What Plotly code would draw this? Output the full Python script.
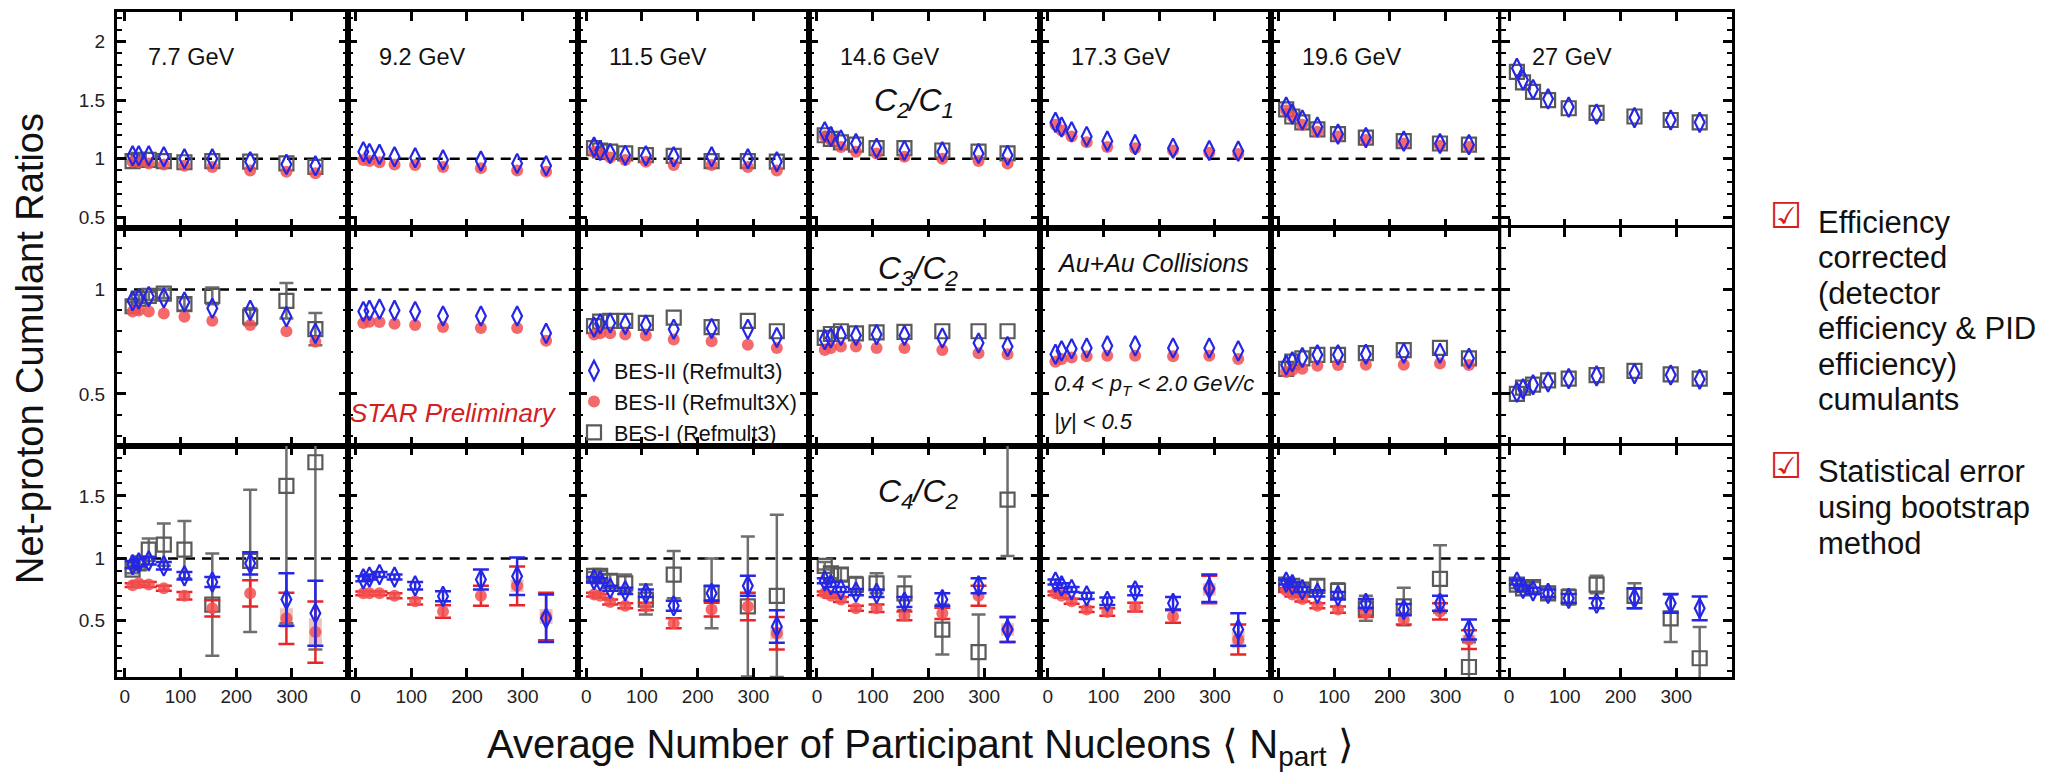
import plotly.graph_objects as go
from plotly.subplots import make_subplots

W, H = 2047, 780
FONT = "Liberation Sans, Arial, sans-serif"

ENERGIES = ["7.7", "9.2", "11.5", "14.6", "17.3", "19.6", "27"]
ENERGY_LABELS = ["7.7 GeV", "9.2 GeV", "11.5 GeV", "14.6 GeV", "17.3 GeV", "19.6 GeV", "27 GeV"]
NPART = [14, 25, 43, 70, 107, 157, 225, 290, 342]
X_TICKS = [0, 100, 200, 300]

# ---------------- C2/C1 ----------------
C2C1_BES2 = {
    "7.7": [1.025, 1.025, 1.025, 1.017, 1.0, 1.0, 0.975, 0.952, 0.94],
    "9.2": [1.06, 1.045, 1.037, 1.017, 1.008, 0.99, 0.98, 0.96, 0.94],
    "11.5": [1.10, 1.07, 1.045, 1.03, 1.025, 1.017, 1.017, 1.0, 0.975],
    "14.6": [1.23, 1.19, 1.16, 1.13, 1.09, 1.07, 1.06, 1.045, 1.03],
    "17.3": [1.31, 1.27, 1.23, 1.19, 1.15, 1.12, 1.09, 1.07, 1.065],
    "19.6": [1.44, 1.38, 1.33, 1.27, 1.21, 1.18, 1.15, 1.13, 1.12],
    "27": [1.77, 1.67, 1.59, 1.51, 1.44, 1.38, 1.35, 1.33, 1.31],
}
C2C1_BES2X = {
    "7.7": [0.975, 0.97, 0.96, 0.95, 0.94, 0.93, 0.90, 0.89, 0.876],
    "9.2": [0.99, 0.98, 0.97, 0.95, 0.946, 0.93, 0.92, 0.90, 0.89],
    "11.5": [1.06, 1.045, 1.01, 0.99, 0.975, 0.946, 0.946, 0.93, 0.90],
    "14.6": [1.19, 1.16, 1.10, 1.06, 1.045, 1.017, 1.0, 0.98, 0.96],
    "17.3": [1.29, 1.24, 1.19, 1.14, 1.10, 1.09, 1.07, 1.05, 1.04],
    "19.6": [1.41, 1.36, 1.29, 1.23, 1.19, 1.16, 1.13, 1.11, 1.10],
}
C2C1_BES1 = {
    "7.7": [0.98, 0.99, 0.99, 0.98, 0.97, 0.98, 0.975, 0.96, 0.93],
    "11.5": [1.09, 1.07, 1.06, 1.045, 1.03, 1.025, 0.98, 0.98, 0.975],
    "14.6": [1.20, 1.17, 1.14, 1.12, 1.09, 1.09, 1.07, 1.06, 1.045],
    "19.6": [1.42, 1.36, 1.31, 1.25, 1.21, 1.18, 1.15, 1.13, 1.12],
    "27": [1.74, 1.65, 1.57, 1.50, 1.43, 1.39, 1.36, 1.33, 1.31],
}

# ---------------- C3/C2 ----------------
C3C2_BES2 = {
    "7.7": [0.946, 0.955, 0.966, 0.96, 0.94, 0.91, 0.90, 0.87, 0.79],
    "9.2": [0.895, 0.90, 0.906, 0.90, 0.895, 0.873, 0.873, 0.873, 0.79],
    "11.5": [0.82, 0.836, 0.84, 0.833, 0.83, 0.81, 0.813, 0.81, 0.77],
    "14.6": [0.76, 0.768, 0.78, 0.78, 0.784, 0.78, 0.768, 0.744, 0.727],
    "17.3": [0.69, 0.706, 0.716, 0.72, 0.73, 0.73, 0.72, 0.72, 0.706],
    "19.6": [0.638, 0.654, 0.674, 0.687, 0.687, 0.69, 0.695, 0.695, 0.67],
    "27": [0.508, 0.524, 0.544, 0.557, 0.573, 0.586, 0.597, 0.59, 0.57],
}
C3C2_BES2X = {
    "7.7": [0.895, 0.90, 0.895, 0.885, 0.87, 0.85, 0.83, 0.80, 0.75],
    "9.2": [0.84, 0.846, 0.844, 0.836, 0.83, 0.82, 0.816, 0.816, 0.755],
    "11.5": [0.784, 0.79, 0.79, 0.784, 0.78, 0.76, 0.752, 0.735, 0.72],
    "14.6": [0.71, 0.72, 0.727, 0.727, 0.72, 0.72, 0.71, 0.695, 0.69],
    "17.3": [0.654, 0.667, 0.674, 0.68, 0.683, 0.683, 0.68, 0.683, 0.667],
    "19.6": [0.605, 0.613, 0.62, 0.635, 0.638, 0.64, 0.64, 0.646, 0.638],
}
C3C2_BES1 = {
    "7.7": [0.92, 0.955, 0.97, 0.98, 0.93, 0.97, 0.87, 0.946, 0.81],
    "11.5": [0.825, 0.846, 0.85, 0.85, 0.84, 0.865, 0.82, 0.85, 0.80],
    "14.6": [0.768, 0.787, 0.80, 0.79, 0.795, 0.797, 0.80, 0.80, 0.80],
    "19.6": [0.62, 0.654, 0.67, 0.687, 0.687, 0.695, 0.71, 0.72, 0.67],
    "27": [0.50, 0.53, 0.544, 0.565, 0.573, 0.59, 0.61, 0.593, 0.573],
}
C3C2_BES1_ERR = {
    "7.7": [0.02, 0.02, 0.02, 0.02, 0.03, 0.04, 0.04, 0.085, 0.077],
}

# ---------------- C4/C2 ----------------
C4C2_BES2 = {
    "7.7": [0.95, 0.965, 0.98, 0.94, 0.86, 0.81, 0.96, 0.67, 0.56],
    "9.2": [0.836, 0.85, 0.87, 0.85, 0.78, 0.696, 0.83, 0.857, 0.52],
    "11.5": [0.83, 0.82, 0.76, 0.74, 0.72, 0.62, 0.72, 0.78, 0.455],
    "14.6": [0.82, 0.79, 0.75, 0.73, 0.72, 0.65, 0.67, 0.78, 0.43],
    "17.3": [0.81, 0.78, 0.75, 0.70, 0.656, 0.74, 0.64, 0.76, 0.43],
    "19.6": [0.81, 0.79, 0.75, 0.72, 0.70, 0.64, 0.59, 0.64, 0.43],
    "27": [0.81, 0.76, 0.74, 0.72, 0.68, 0.64, 0.68, 0.64, 0.60],
}
C4C2_BES2_ERR = {
    "7.7": [0.03, 0.03, 0.03, 0.03, 0.03, 0.04, 0.09, 0.21, 0.26],
    "9.2": [0.02, 0.02, 0.02, 0.02, 0.03, 0.04, 0.08, 0.15, 0.19],
    "11.5": [0.02, 0.02, 0.02, 0.025, 0.03, 0.04, 0.06, 0.08, 0.13],
    "14.6": [0.02, 0.02, 0.02, 0.025, 0.03, 0.04, 0.05, 0.06, 0.10],
    "17.3": [0.02, 0.02, 0.02, 0.025, 0.03, 0.035, 0.05, 0.11, 0.13],
    "19.6": [0.02, 0.02, 0.02, 0.025, 0.03, 0.035, 0.045, 0.06, 0.08],
    "27": [0.02, 0.02, 0.025, 0.03, 0.035, 0.04, 0.08, 0.075, 0.095],
}
C4C2_BES2X = {
    "7.7": [0.785, 0.80, 0.79, 0.76, 0.70, 0.60, 0.72, 0.52, 0.41],
    "9.2": [0.72, 0.72, 0.72, 0.70, 0.656, 0.575, 0.70, 0.78, 0.535],
    "11.5": [0.71, 0.70, 0.65, 0.62, 0.615, 0.48, 0.59, 0.615, 0.40],
    "14.6": [0.72, 0.70, 0.67, 0.60, 0.60, 0.54, 0.56, 0.70, 0.43],
    "17.3": [0.72, 0.70, 0.656, 0.59, 0.57, 0.61, 0.535, 0.75, 0.35],
    "19.6": [0.745, 0.71, 0.675, 0.62, 0.59, 0.56, 0.51, 0.575, 0.35],
}
C4C2_BES2X_ERR = {
    "7.7": [0.015, 0.015, 0.02, 0.02, 0.03, 0.065, 0.105, 0.205, 0.245],
    "9.2": [0.015, 0.015, 0.015, 0.02, 0.025, 0.05, 0.08, 0.155, 0.19],
    "11.5": [0.015, 0.015, 0.02, 0.02, 0.03, 0.04, 0.055, 0.11, 0.13],
    "14.6": [0.015, 0.015, 0.02, 0.02, 0.03, 0.035, 0.045, 0.08, 0.10],
    "17.3": [0.015, 0.015, 0.02, 0.02, 0.03, 0.035, 0.05, 0.11, 0.12],
    "19.6": [0.015, 0.015, 0.02, 0.02, 0.025, 0.03, 0.04, 0.065, 0.075],
}
C4C2_BES2X_SYS = {
    "7.7": [0, 0, 0, 0, 0, 0, 0, 0.08, 0.11],
    "9.2": [0, 0, 0, 0, 0, 0, 0, 0.05, 0.06],
    "11.5": [0, 0, 0, 0, 0, 0, 0, 0, 0.05],
    "14.6": [0, 0, 0, 0, 0, 0, 0, 0, 0.05],
    "17.3": [0, 0, 0, 0, 0, 0, 0, 0.05, 0.07],
    "19.6": [0, 0, 0, 0, 0, 0, 0, 0, 0.04],
}
C4C2_BES1 = {
    "7.7": [0.91, 0.96, 1.07, 1.11, 1.07, 0.63, 0.98, 1.58, 1.77],
    "11.5": [0.86, 0.86, 0.82, 0.80, 0.67, 0.87, 0.72, 0.615, 0.70],
    "14.6": [0.94, 0.88, 0.87, 0.79, 0.80, 0.72, 0.43, 0.25, 1.47],
    "19.6": [0.79, 0.78, 0.75, 0.78, 0.74, 0.60, 0.615, 0.836, 0.13],
    "27": [0.79, 0.76, 0.77, 0.72, 0.69, 0.79, 0.70, 0.52, 0.20],
}
C4C2_BES1_ERR = {
    "7.7": [0.03, 0.05, 0.09, 0.17, 0.23, 0.41, 0.57, 1.1, 1.5],
    "11.5": [0.03, 0.04, 0.05, 0.07, 0.12, 0.19, 0.28, 0.56, 0.65],
    "14.6": [0.03, 0.04, 0.05, 0.06, 0.08, 0.135, 0.2, 0.3, 0.45],
    "19.6": [0.03, 0.03, 0.04, 0.05, 0.06, 0.1, 0.15, 0.27, 0.2],
    "27": [0.03, 0.03, 0.04, 0.05, 0.06, 0.07, 0.1, 0.19, 0.25],
}

NOTE_1 = ["Efficiency", "corrected", "(detector", "efficiency & PID", "efficiency)", "cumulants"]
NOTE_2 = ["Statistical error", "using bootstrap", "method"]

ROWS = [
    dict(blue=C2C1_BES2, red=C2C1_BES2X, gray=C2C1_BES1),
    dict(blue=C3C2_BES2, red=C3C2_BES2X, gray=C3C2_BES1, gray_err=C3C2_BES1_ERR),
    dict(blue=C4C2_BES2, blue_err=C4C2_BES2_ERR, red=C4C2_BES2X, red_err=C4C2_BES2X_ERR,
         red_sys=C4C2_BES2X_SYS, gray=C4C2_BES1, gray_err=C4C2_BES1_ERR),
]

# ---------------- geometry (pixels) ----------------
COL_LEFT, COL_RIGHT = 117, 1732
COL_W = (COL_RIGHT - COL_LEFT) / 7
ROW_PX = [(12, 228), (228, 446), (446, 677)]
X_RANGE = [-14, 400]
Y_RANGES = [[0.41, 2.25], [0.25, 1.295], [0.05, 1.90]]
Y_TICKS = [[0.5, 1, 1.5, 2], [0.5, 1], [0.5, 1, 1.5]]
Y_TICKTEXT = [["0.5", "1", "1.5", "2"], ["0.5", "1"], ["0.5", "1", "1.5"]]

BLUE = "#2626e6"
RED = "#e8262a"
RED_FILL = "rgba(242,80,80,0.85)"
GRAY = "#5a5a5a"
GRAY_ERR = "#6e6e6e"
SYS_FILL = "rgba(215,150,140,0.55)"

fig = make_subplots(rows=3, cols=7, horizontal_spacing=0, vertical_spacing=0)


def px_x(p):
    return p / W


def px_y(p):
    return 1 - p / H


for r in range(3):
    for c in range(7):
        idx = r * 7 + c + 1
        xa = "xaxis" if idx == 1 else f"xaxis{idx}"
        ya = "yaxis" if idx == 1 else f"yaxis{idx}"
        x0 = COL_LEFT + c * COL_W
        x1 = x0 + COL_W
        top, bot = ROW_PX[r]
        fig.layout[xa].update(
            domain=[px_x(x0), px_x(x1)], range=X_RANGE, tickvals=X_TICKS,
            ticktext=[str(v) for v in X_TICKS],
            ticks="inside", ticklen=9, tickwidth=2.5, tickcolor="black",
            showline=True, linewidth=3, linecolor="black", mirror="ticks",
            showgrid=False, zeroline=False, showticklabels=(r == 2),
            tickfont=dict(size=19, family=FONT, color="#222"), automargin=False,
        )
        fig.layout[ya].update(
            domain=[px_y(bot), px_y(top)], range=Y_RANGES[r], tickvals=Y_TICKS[r],
            ticktext=Y_TICKTEXT[r],
            ticks="inside", ticklen=9, tickwidth=2.5, tickcolor="black",
            minor=dict(ticks="inside", ticklen=5, tickwidth=2, tickcolor="black", dtick=0.1),
            showline=True, linewidth=3, linecolor="black", mirror="ticks",
            showgrid=False, zeroline=False, showticklabels=(c == 0),
            tickfont=dict(size=19, family=FONT, color="#222"), automargin=False,
            ticklabelstandoff=5,
        )
        xref = "x domain" if idx == 1 else f"x{idx} domain"
        yref = "y" if idx == 1 else f"y{idx}"
        fig.add_shape(type="line", xref=xref, yref=yref, x0=0, x1=1, y0=1, y1=1,
                      line=dict(color="black", width=2.5, dash="10px,7px"), layer="below")

        e = ENERGIES[c]
        d = ROWS[r]
        first = (r == 1 and c == 0)
        if "red_sys" in d and e in d["red_sys"]:
            fig.add_trace(go.Scatter(
                x=NPART, y=d["red"][e], mode="markers", marker=dict(size=1, opacity=0),
                error_y=dict(type="data", array=d["red_sys"][e], visible=True,
                             color=SYS_FILL, thickness=13, width=0),
                showlegend=False, hoverinfo="skip"), row=r + 1, col=c + 1)
        if e in d["gray"]:
            err = d.get("gray_err", {}).get(e)
            fig.add_trace(go.Scatter(
                x=NPART, y=d["gray"][e], mode="markers", name="BES-I (Refmult3)",
                marker=dict(symbol="square-open", size=14, color=GRAY, line=dict(width=2.2)),
                error_y=(dict(type="data", array=err, visible=True, color=GRAY_ERR,
                              thickness=2.5, width=7) if err else None),
                showlegend=first, legendrank=3), row=r + 1, col=c + 1)
        if e in d["red"]:
            err = d.get("red_err", {}).get(e)
            fig.add_trace(go.Scatter(
                x=NPART, y=d["red"][e], mode="markers", name="BES-II (Refmult3X)",
                marker=dict(symbol="circle", size=12, color=RED_FILL, line=dict(width=0)),
                error_y=(dict(type="data", array=err, visible=True, color=RED,
                              thickness=2.5, width=8) if err else None),
                showlegend=first, legendrank=2), row=r + 1, col=c + 1)
        if e in d["blue"]:
            err = d.get("blue_err", {}).get(e)
            fig.add_trace(go.Scatter(
                x=NPART, y=d["blue"][e], mode="markers", name="BES-II (Refmult3)",
                marker=dict(symbol="diamond-tall-open", size=14, color=BLUE, line=dict(width=2.2)),
                error_y=(dict(type="data", array=err, visible=True, color=BLUE,
                              thickness=2.5, width=8) if err else None),
                showlegend=first, legendrank=1), row=r + 1, col=c + 1)

annotations = []


def ann(text, x, y, size, xanchor="center", color="#111", angle=0, family=FONT):
    annotations.append(dict(x=px_x(x), y=px_y(y), xref="paper", yref="paper", text=text,
                            showarrow=False, xanchor=xanchor, yanchor="middle", textangle=angle,
                            font=dict(size=size, family=family, color=color)))


for c, lab in enumerate(ENERGY_LABELS):
    ann(lab, COL_LEFT + c * COL_W + 29, 57, 23.5, xanchor="left")

ann("<i>C<sub>2</sub>/C<sub>1</sub></i>", 914, 103, 32)
ann("<i>C<sub>3</sub>/C<sub>2</sub></i>", 918, 270, 32)
ann("<i>C<sub>4</sub>/C<sub>2</sub></i>", 918, 493, 32)
ann("<i>Au+Au Collisions</i>", 1153, 263, 25)
ann("<i>0.4 < p<sub>T</sub> < 2.0 GeV/c</i>", 1052, 385, 22, xanchor="left")
ann("<i>|y| < 0.5</i>", 1052, 421, 22, xanchor="left")
ann("<i>STAR Preliminary</i>", 348, 413, 26, xanchor="left", color="#d42020")
ann("Average Number of Participant Nucleons ⟨ N<sub>part</sub> ⟩", 920, 747, 40)
ann("Net-proton Cumulant Ratios", 30, 349, 38, angle=-90)

# right-side notes
ann("☑", 1786, 215, 36, color="#d42020", family="DejaVu Sans")
ann("☑", 1786, 465, 36, color="#d42020", family="DejaVu Sans")
for i, line in enumerate(NOTE_1):
    ann(line, 1816, 222 + 35.6 * i, 31, xanchor="left")
for i, line in enumerate(NOTE_2):
    ann(line, 1816, 472 + 35.6 * i, 31, xanchor="left")

fig.update_layout(
    width=W, height=H, margin=dict(l=0, r=0, t=0, b=0),
    paper_bgcolor="white", plot_bgcolor="white",
    annotations=annotations,
    showlegend=True,
    legend=dict(x=px_x(574), y=px_y(350), xanchor="left", yanchor="top",
                bgcolor="rgba(0,0,0,0)", font=dict(size=21.5, family=FONT, color="#111"),
                tracegroupgap=0, itemwidth=30),
)

fig.write_html("out.html")
